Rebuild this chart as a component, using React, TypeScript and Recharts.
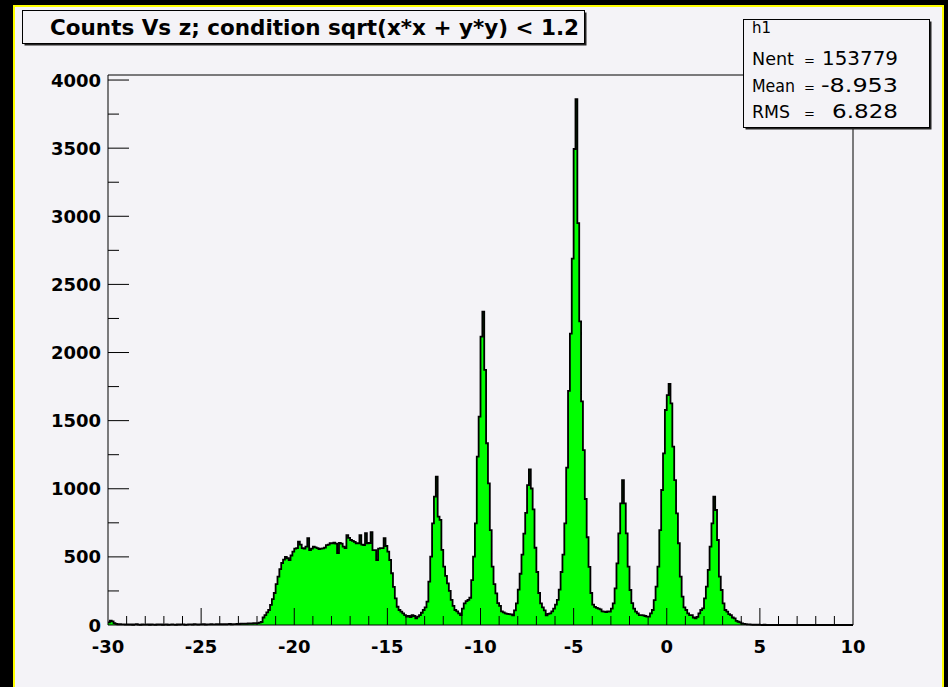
import { AreaChart, Area, XAxis, YAxis, ReferenceLine } from 'recharts';

// histogram binning: 400 bins of 0.1 between -30 and 10
const X_MIN = -30;
const X_MAX = 10;
const BIN_WIDTH = 0.1;
const Y_MAX = 4037;

// counts per bin, one row of 10 bins per unit of z
const tailLow = [
  20, 32, 26, 14, 8, 5, 6, 4, 5, 3,
  4, 3, 5, 2, 4, 6, 3, 2, 4, 3,
  3, 5, 2, 4, 3, 2, 5, 3, 4, 2,
  3, 4, 2, 3, 5, 3, 2, 4, 3, 5,
  4, 2, 3, 5, 4, 3, 6, 4, 3, 5,
  4, 6, 3, 5, 4, 7, 5, 4, 6, 5,
  6, 5, 7, 4, 6, 8, 5, 7, 6, 8,
  7, 9, 8, 10, 9, 12, 10, 11, 13, 12,
];

const plateau = [
  14, 18, 22, 55, 73, 92, 110, 147, 190, 235,
  300, 355, 410, 455, 480, 500, 490, 477, 510, 538,
  560, 565, 611, 590, 565, 560, 575, 638, 550, 560,
  575, 570, 565, 558, 560, 562, 568, 587, 590, 600,
  600, 605, 598, 528, 602, 598, 575, 565, 660, 640,
  624, 618, 610, 600, 600, 660, 590, 587, 675, 600,
  602, 682, 550, 550, 477, 560, 565, 565, 638, 580,
  538, 477, 380, 280, 196, 134, 110, 98, 85, 73,
];

const peaksLeft = [
  61, 66, 58, 73, 66, 49, 62, 72, 90, 110,
  130, 171, 318, 502, 746, 942, 1089, 795, 771, 551,
  428, 360, 306, 250, 184, 140, 110, 100, 86, 73,
  120, 159, 175, 184, 200, 330, 502, 746, 1236, 1529,
  2117, 2300, 1872, 1334, 1040, 697, 428, 300, 232, 160,
  140, 100, 92, 86, 82, 80, 78, 70, 107, 158,
  260, 376, 516, 670, 823, 1027, 1142, 1002, 849, 567,
  389, 235, 158, 130, 107, 70, 82, 85, 100, 120,
];

const peaksRight = [
  150, 184, 260, 389, 516, 746, 1155, 1718, 2139, 2689,
  3494, 3860, 2950, 2229, 1641, 1283, 925, 644, 427, 235,
  150, 133, 125, 120, 115, 100, 98, 95, 100, 98,
  120, 159, 269, 453, 673, 893, 1064, 893, 673, 428,
  257, 160, 120, 98, 85, 73, 73, 70, 66, 61,
  61, 85, 110, 183, 281, 428, 697, 991, 1260, 1578,
  1688, 1769, 1627, 1309, 1064, 820, 600, 355, 208, 130,
  110, 86, 73, 73, 55, 49, 60, 86, 110, 122,
];

const tailHigh = [
  196, 281, 404, 575, 746, 942, 844, 624, 355, 257,
  159, 110, 98, 80, 73, 55, 49, 30, 24, 20,
  12, 8, 7, 5, 4, 3, 2, 3, 1, 2,
  1, 0, 2, 0, 1, 0, 0, 1, 0, 0,
  0, 0, 0, 0, 0, 0, 0, 0, 0, 0,
  0, 0, 0, 0, 0, 0, 0, 0, 0, 0,
  0, 0, 0, 0, 0, 0, 0, 0, 0, 0,
  0, 0, 0, 0, 0, 0, 0, 0, 0, 0,
];

const xLabelTicks = [-30, -25, -20, -15, -10, -5, 0, 5, 10];
const yLabelTicks = [0, 500, 1000, 1500, 2000, 2500, 3000, 3500, 4000];

const title = 'Counts Vs z; condition sqrt(x*x + y*y) < 1.2';
const statName = 'h1';
const statLabels = ['Nent', 'Mean', 'RMS'];
const statValues = ['153779', '-8.953', '6.828'];

const counts = [...tailLow, ...plateau, ...peaksLeft, ...peaksRight, ...tailHigh];
const data = counts.map((count, i) => ({
  z: Math.round((X_MIN + i * BIN_WIDTH) * 10) / 10,
  count,
}));
data.push({ z: X_MAX, count: counts[counts.length - 1] });

const xTicks = Array.from({ length: X_MAX - X_MIN + 1 }, (_, i) => X_MIN + i);
const yTicks = Array.from({ length: 17 }, (_, i) => i * 250);

// plot frame in pixels, used to turn tick lengths into axis units
const PLOT_W = 745;
const PLOT_H = 550;
const xUnitsPerPx = (X_MAX - X_MIN) / PLOT_W;
const yUnitsPerPx = Y_MAX / PLOT_H;

const FONT = 'DejaVu Sans';
const CHART_MARGIN = { top: 75, right: 95, bottom: 22, left: 48 };

const XLabel = ({ x, y, payload }: any) => {
  const v = payload.value;
  if (!xLabelTicks.includes(v)) return <g />;
  return (
    <text x={x} y={y + 28} textAnchor="middle" fontFamily={FONT} fontWeight="bold" fontSize={18} fill="#000">
      {v}
    </text>
  );
};

const YLabel = ({ x, y, payload }: any) => {
  const v = payload.value;
  if (!yLabelTicks.includes(v)) return <g />;
  return (
    <text x={x - 7} y={y + 6.5} textAnchor="end" fontFamily={FONT} fontWeight="bold" fontSize={18} fill="#000">
      {v}
    </text>
  );
};

const statText = { fontFamily: FONT, fontSize: 20, fill: '#000' };
const labelWidths = [42, 43, 38];
const valueWidths = [76, 77, 66];

// ROOT draws its ticks inside the frame, on top of the filled histogram,
// so they live in a transparent twin chart laid over the first one
function TickLayer() {
  return (
    <AreaChart width={948} height={687} data={data} margin={CHART_MARGIN}>
      <XAxis
        dataKey="z"
        type="number"
        domain={[X_MIN, X_MAX]}
        height={40}
        tick={false}
        tickLine={false}
        axisLine={false}
      />
      <YAxis type="number" domain={[0, Y_MAX]} width={60} tick={false} tickLine={false} axisLine={false} />
      <Area dataKey="count" stroke="none" fill="none" dot={false} activeDot={false} isAnimationActive={false} />
      {xTicks
        .filter((v) => v !== X_MIN && v !== X_MAX)
        .map((v) => (
          <ReferenceLine
            key={`xt${v}`}
            segment={[{ x: v, y: 0 }, { x: v, y: (xLabelTicks.includes(v) ? 17 : 9) * yUnitsPerPx }]}
            stroke="#000"
            strokeWidth={1}
          />
        ))}
      {yTicks
        .filter((v) => v !== 0)
        .map((v) => (
          <ReferenceLine
            key={`yt${v}`}
            segment={[{ x: X_MIN, y: v }, { x: X_MIN + (yLabelTicks.includes(v) ? 21 : 11) * xUnitsPerPx, y: v }]}
            stroke="#000"
            strokeWidth={1}
          />
        ))}
      <ReferenceLine y={Y_MAX} stroke="#000" strokeWidth={1} />
      <ReferenceLine x={X_MAX} stroke="#000" strokeWidth={1} />
    </AreaChart>
  );
}

export default function App() {
  return (
    <div style={{ position: 'absolute', left: 0, top: 0, width: 948, height: 687, background: '#000', overflow: 'hidden' }}>
      <div
        style={{
          position: 'absolute', left: 13, top: 5, right: 4, bottom: 0,
          background: '#f4f3f7', borderLeft: '2px solid #ffff00', borderTop: '2px solid #ffff00', borderRight: '2px solid #ffff00',
        }}
      />
      <div style={{ position: 'absolute', left: 0, top: 0 }}>
        <AreaChart width={948} height={687} data={data} margin={CHART_MARGIN}>
          <XAxis
            dataKey="z"
            type="number"
            domain={[X_MIN, X_MAX]}
            ticks={xTicks}
            interval={0}
            height={40}
            tickSize={0}
            tickMargin={0}
            tickLine={false}
            axisLine={{ stroke: '#000', strokeWidth: 1 }}
            tick={<XLabel />}
          />
          <YAxis
            type="number"
            domain={[0, Y_MAX]}
            ticks={yTicks}
            interval={0}
            width={60}
            tickSize={0}
            tickMargin={0}
            tickLine={false}
            axisLine={{ stroke: '#000', strokeWidth: 1 }}
            tick={<YLabel />}
          />
          <Area
            type="stepAfter"
            dataKey="count"
            stroke="#000"
            strokeWidth={1.8}
            fill="#00ff00"
            fillOpacity={1}
            dot={false}
            activeDot={false}
            isAnimationActive={false}
          />
        </AreaChart>
      </div>
      <div style={{ position: 'absolute', left: 0, top: 0, pointerEvents: 'none' }}>
        <TickLayer />
      </div>
      <svg width={948} height={687} style={{ position: 'absolute', left: 0, top: 0, pointerEvents: 'none' }}>
        <rect x={24.5} y={12.5} width={562} height={33} fill="#222" />
        <rect x={22.5} y={10.5} width={562} height={33} fill="#f4f3f7" stroke="#000" strokeWidth={1} />
        <text x={50} y={35} fontFamily={FONT} fontWeight="bold" fontSize={21.5} fill="#000">
          {title}
        </text>
        <rect x={745.5} y={21.5} width={186} height={108} fill="#222" />
        <rect x={743.5} y={19.5} width={186} height={108} fill="#f4f3f7" stroke="#000" strokeWidth={1} />
        <text x={752} y={33} fontFamily={FONT} fontSize={15} fill="#000">
          {statName}
        </text>
        {statLabels.map((label, i) => (
          <g key={label}>
            <text
              x={752}
              y={65 + i * 26.5}
              textLength={labelWidths[i]}
              lengthAdjust="spacingAndGlyphs"
              {...statText}
              fontSize={18}
            >
              {label}
            </text>
            <text x={804} y={65 + i * 26.5} {...statText} fontSize={13}>
              =
            </text>
            <text
              x={898 - valueWidths[i]}
              y={65 + i * 26.5}
              textLength={valueWidths[i]}
              lengthAdjust="spacingAndGlyphs"
              {...statText}
            >
              {statValues[i]}
            </text>
          </g>
        ))}
      </svg>
    </div>
  );
}
